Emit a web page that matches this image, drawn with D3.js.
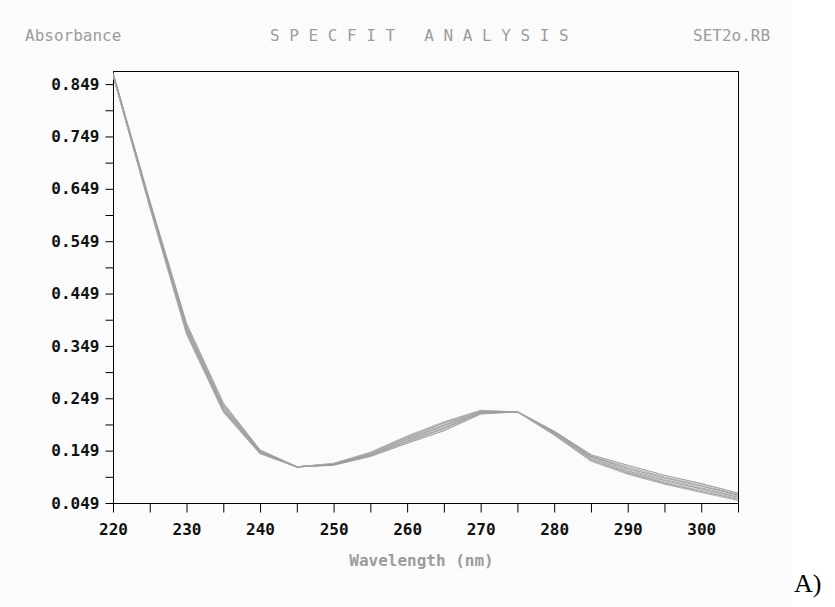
<!DOCTYPE html>
<html>
<head>
<meta charset="utf-8">
<script src="https://cdn.jsdelivr.net/npm/d3@7"></script>
<style>
  html, body { margin: 0; padding: 0; background: #ffffff; }
  svg { display: block; }
</style>
</head>
<body>
<svg id="chart" width="835" height="607"></svg>
<script>
// ---- data ----
const wavelengths = [220,225,230,235,240,245,250,255,260,265,270,275,280,285,290,295,300,305];
const spectrum1 = [0.871,0.626,0.392,0.240,0.150,0.118,0.121,0.138,0.163,0.187,0.219,0.223,0.186,0.141,0.121,0.102,0.086,0.068];
const spectrum2 = [0.870,0.624,0.389,0.237,0.149,0.118,0.122,0.139,0.165,0.190,0.220,0.223,0.185,0.139,0.118,0.099,0.083,0.066];
const spectrum3 = [0.869,0.622,0.386,0.234,0.148,0.118,0.122,0.140,0.167,0.192,0.221,0.223,0.184,0.138,0.115,0.097,0.081,0.064];
const spectrum4 = [0.868,0.620,0.383,0.232,0.147,0.118,0.123,0.141,0.169,0.195,0.222,0.223,0.183,0.136,0.113,0.094,0.078,0.062];
const spectrum5 = [0.868,0.619,0.380,0.229,0.146,0.118,0.123,0.142,0.171,0.197,0.223,0.223,0.182,0.134,0.110,0.092,0.076,0.060];
const spectrum6 = [0.867,0.617,0.377,0.227,0.145,0.118,0.124,0.144,0.173,0.199,0.224,0.223,0.181,0.132,0.108,0.089,0.073,0.058];
const spectrum7 = [0.866,0.615,0.374,0.225,0.144,0.118,0.124,0.145,0.175,0.202,0.225,0.223,0.180,0.130,0.106,0.087,0.071,0.056];
const spectrum8 = [0.866,0.613,0.371,0.223,0.143,0.118,0.125,0.146,0.177,0.204,0.226,0.223,0.179,0.129,0.104,0.085,0.069,0.054];
const allSpectra = [spectrum1,spectrum2,spectrum3,spectrum4,spectrum5,spectrum6,spectrum7,spectrum8];

const xTickValues = [220,225,230,235,240,245,250,255,260,265,270,275,280,285,290,295,300,305];
const xTickLabels = ["220","","230","","240","","250","","260","","270","","280","","290","","300",""];
const yTickValues = [0.049,0.099,0.149,0.199,0.249,0.299,0.349,0.399,0.449,0.499,0.549,0.599,0.649,0.699,0.749,0.799,0.849];
const yTickLabels = ["0.049","","0.149","","0.249","","0.349","","0.449","","0.549","","0.649","","0.749","","0.849"];

const titleLeft = "Absorbance";
const titleCenter = "S P E C F I T   A N A L Y S I S";
const titleRight = "SET2o.RB";
const xAxisTitle = "Wavelength (nm)";
const panelLabel = "A)";

// ---- layout ----
const svg = d3.select("#chart");
const L = 113, R = 738, T = 71, B = 503;
const mono = "'DejaVu Sans Mono', 'Liberation Mono', monospace";

svg.append("rect").attr("x",0).attr("y",0).attr("width",792).attr("height",607).attr("fill","#fbfbfb");

const x = d3.scaleLinear().domain([220,305]).range([L,R]);
const y = d3.scaleLinear().domain([0.049,0.874]).range([B,T]);

// frame (top)
svg.append("line").attr("x1",L).attr("x2",R).attr("y1",T+0.5).attr("y2",T+0.5)
  .attr("stroke","#000").attr("stroke-width",1);

// x axis
const xAxis = d3.axisBottom(x).tickValues(xTickValues)
  .tickFormat((d,i)=>xTickLabels[i]).tickSize(9).tickPadding(11);
const gx = svg.append("g").attr("transform",`translate(0,${B+0.5})`).call(xAxis);
gx.select(".domain").attr("d",`M${L},0H${R}`).attr("stroke","#000");
gx.selectAll(".tick line").attr("stroke","#000");
gx.selectAll(".tick text").attr("font-family",mono).attr("font-size","16px")
  .attr("font-weight","bold").attr("fill","#111");

// y axis
const yAxis = d3.axisLeft(y).tickValues(yTickValues)
  .tickFormat((d,i)=>yTickLabels[i]).tickSize(8).tickPadding(6);
const gy = svg.append("g").attr("transform",`translate(${L+0.5},0)`).call(yAxis);
gy.select(".domain").attr("d",`M0,${T}V${B+9}`).attr("stroke","#000");
gy.selectAll(".tick line").attr("stroke","#000");
gy.selectAll(".tick text").attr("font-family",mono).attr("font-size","16px")
  .attr("font-weight","bold").attr("fill","#111");

// right border
svg.append("line").attr("x1",R+0.5).attr("x2",R+0.5).attr("y1",T).attr("y2",B+9)
  .attr("stroke","#000").attr("stroke-width",1);

// spectra
const line = d3.line().x((d,i)=>x(wavelengths[i])).y(d=>y(d));
svg.append("clipPath").attr("id","plotclip").append("rect")
  .attr("x",L).attr("y",T-2).attr("width",R-L).attr("height",B-T+2);
svg.append("g").attr("clip-path","url(#plotclip)")
  .selectAll("path").data(allSpectra).join("path")
  .attr("d",line).attr("fill","none")
  .attr("stroke",(d,i)=> i%2 ? "#adadad" : "#8f8f8f")
  .attr("stroke-width",1.1).attr("stroke-opacity",0.85);

// texts
const gray = "#9c9c9c";
svg.append("text").attr("x",25).attr("y",41).text(titleLeft)
  .attr("font-family",mono).attr("font-size","16px").attr("fill",gray);
svg.append("text").attr("x",270).attr("y",41).text(titleCenter)
  .attr("font-family",mono).attr("font-size","16px").attr("fill",gray)
  .attr("xml:space","preserve").style("white-space","pre");
svg.append("text").attr("x",693).attr("y",41).text(titleRight)
  .attr("font-family",mono).attr("font-size","16px").attr("fill",gray);
svg.append("text").attr("x",(L+R)/2 - 4).attr("y",566).attr("text-anchor","middle").text(xAxisTitle)
  .attr("font-family",mono).attr("font-size","16px").attr("fill",gray).attr("font-weight","bold");
svg.append("text").attr("x",794).attr("y",592).text(panelLabel)
  .attr("font-family","'Liberation Serif', 'Times New Roman', serif").attr("font-size","26px").attr("fill","#000");
</script>
</body>
</html>
